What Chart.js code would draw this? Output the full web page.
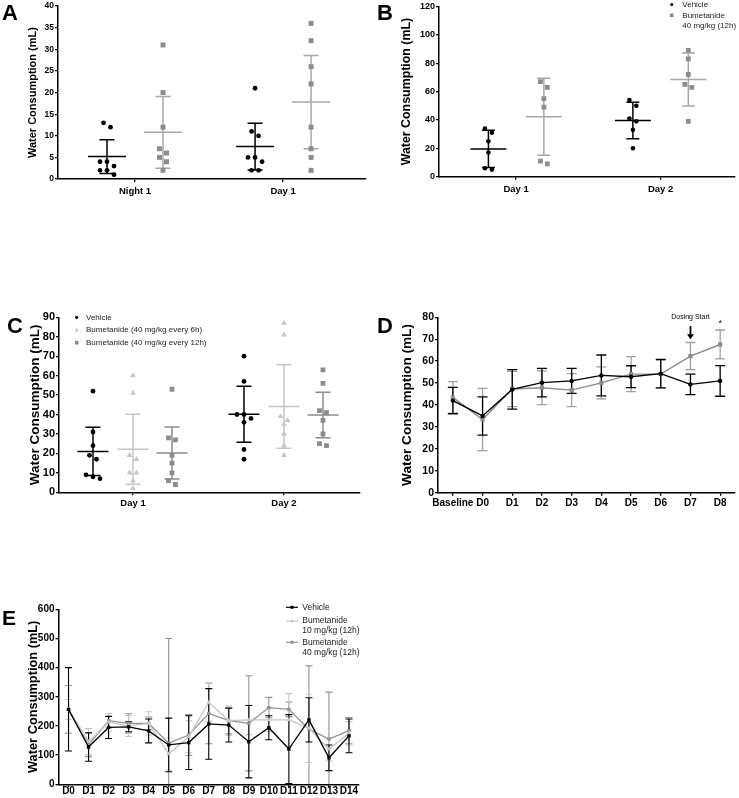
<!DOCTYPE html>
<html>
<head>
<meta charset="utf-8">
<script src="https://cdn.jsdelivr.net/npm/chart.js@4.4.1/dist/chart.umd.min.js"></script>
<style>
  body { margin: 0; background: #fff; }
  #page { position: relative; width: 739px; height: 798px; overflow: hidden; }
  canvas { position: absolute; }
</style>
</head>
<body>
<div id="page">
  <canvas id="chartA" width="370" height="200" style="left:0;top:0"></canvas>
  <canvas id="chartB" width="369" height="200" style="left:370px;top:0"></canvas>
  <canvas id="chartC" width="370" height="210" style="left:0;top:300px"></canvas>
  <canvas id="chartD" width="369" height="210" style="left:370px;top:300px"></canvas>
  <canvas id="chartE" width="370" height="208" style="left:0;top:590px"></canvas>
</div>
<script>
// ---- A: single animals, mean +/- SD
var aLabels = ['Night 1', 'Day 1'];
var aVehicle = [[12, 13, 4, 4, 3, 2, 2, 1], [21, 10, 11, 5, 5, 4, 2, 2]];
var aBumetanide = [[31, 20, 12, 7, 6, 5, 4, 2], [36, 32, 26, 22, 12, 7, 5, 2]];
var aVehicleMean = [5.2, 7.5];
var aVehicleSD = [3.9, 5.4];
var aBumetanideMean = [10.8, 17.8];
var aBumetanideSD = [8.3, 10.8];

// ---- B
var bLabels = ['Day 1', 'Day 2'];
var bVehicle = [[34, 31, 25, 17, 6, 5], [54, 50, 41, 39, 33, 20]];
var bBumetanide = [[67, 63, 55, 49, 11, 9], [89, 83, 72, 65, 63, 39]];
var bVehicleMean = [19.6, 39.6];
var bVehicleSD = [13.2, 12.9];
var bBumetanideMean = [42.2, 68.5];
var bBumetanideSD = [27.1, 18.7];

// ---- C
var cLabels = ['Day 1', 'Day 2'];
var cVehicle = [[52, 31, 24, 19, 17, 9, 8, 7], [70, 57, 40, 40, 38, 36, 22, 17]];
var cBumet6h = [[60, 51, 19, 17, 10, 10, 6, 2], [87, 81, 39, 37, 35, 30, 24, 19]];
var cBumet12h = [[53, 28, 27, 19, 15, 10, 6, 4], [63, 56, 42, 41, 37, 30, 25, 24]];
var cVehicleMean = [21.0, 40.1];
var cVehicleSD = [12.4, 14.4];
var cBumet6hMean = [22.1, 44.1];
var cBumet6hSD = [18.0, 21.5];
var cBumet12hMean = [20.2, 39.8];
var cBumet12hSD = [13.4, 11.7];

// ---- D: daily means with error bars
var dLabels = ['Baseline', 'D0', 'D1', 'D2', 'D3', 'D4', 'D5', 'D6', 'D7', 'D8'];
var dVehicle = [42.0, 35.0, 47.1, 50.2, 51.0, 53.5, 52.9, 54.3, 49.4, 51.0];
var dVehicleErr = [6.0, 8.7, 9.0, 6.5, 5.7, 9.3, 5.0, 6.5, 4.7, 7.0];
var dBumetanide = [43.5, 33.4, 47.3, 47.9, 46.8, 50.1, 54.1, 54.1, 62.3, 67.6];
var dBumetanideErr = [7.2, 14.2, 8.0, 7.7, 7.5, 7.3, 8.0, 6.3, 6.2, 6.6];

// ---- E
var eLabels = ['D0', 'D1', 'D2', 'D3', 'D4', 'D5', 'D6', 'D7', 'D8', 'D9', 'D10', 'D11', 'D12', 'D13', 'D14'];
var eVehicle = [257, 128, 195, 197, 183, 135, 143, 207, 203, 146, 194, 121, 221, 91, 166];
var eVehicleErr = [143, 49, 38, 17, 41, 92, 92, 121, 58, 124, 41, 118, 76, 44, 58];
var eBumet10 = [257, 146, 213, 200, 209, 104, 163, 281, 218, 221, 221, 221, 192, 120, 175];
var eBumet10Err = [34, 45, 30, 36, 40, 55, 55, 65, 50, 50, 40, 90, 117, 40, 40];
var eBumet40 = [257, 135, 218, 209, 209, 141, 169, 243, 218, 209, 263, 257, 189, 155, 184];
var eBumet40Err = [82, 40, 25, 33, 22, 359, 70, 104, 45, 163, 35, 25, 217, 161, 45];

var BLACK = '#000', GRAY = '#8c8c8c', LIGHT = '#c6c6c6';
Chart.defaults.font.family = '"Liberation Sans", Arial, sans-serif';
Chart.defaults.color = '#000';

var decoById = {};

function marker(ctx, kind, x, y, r, color) {
  ctx.fillStyle = color;
  ctx.beginPath();
  if (kind === 'circle') ctx.arc(x, y, r, 0, Math.PI * 2);
  else if (kind === 'rect') ctx.rect(x - r, y - r, 2 * r, 2 * r);
  else { ctx.moveTo(x, y - r * 1.2); ctx.lineTo(x + r * 1.1, y + r * 0.8); ctx.lineTo(x - r * 1.1, y + r * 0.8); ctx.closePath(); }
  ctx.fill();
}

var deco = {
  id: 'deco',
  beforeDatasetsDraw: function (chart) {
    var o = decoById[chart.canvas.id];
    var ctx = chart.ctx, ys = chart.scales.y, xs = chart.scales.x, ca = chart.chartArea;
    ctx.save();
    ctx.beginPath();
    ctx.rect(ca.left, ca.top - 2, ca.right - ca.left, ca.bottom - ca.top + 2);
    ctx.clip();
    (o.summary || []).forEach(function (g) {
      var cx = xs.getPixelForValue(g.x);
      var m = ys.getPixelForValue(g.mean), hi = ys.getPixelForValue(g.mean + g.sd), lo = ys.getPixelForValue(g.mean - g.sd);
      ctx.strokeStyle = g.color;
      ctx.lineWidth = 1.5;
      ctx.beginPath();
      ctx.moveTo(cx - g.half, m); ctx.lineTo(cx + g.half, m);
      ctx.moveTo(cx, hi); ctx.lineTo(cx, lo);
      ctx.moveTo(cx - g.cap, hi); ctx.lineTo(cx + g.cap, hi);
      ctx.moveTo(cx - g.cap, lo); ctx.lineTo(cx + g.cap, lo);
      ctx.stroke();
    });
    var sets = chart.data.datasets;
    for (var i = sets.length - 1; i >= 0; i--) {
      var ds = sets[i];
      if (!ds.errors) continue;
      var meta = chart.getDatasetMeta(i);
      ctx.strokeStyle = ds.errColor;
      ctx.lineWidth = o.errWidth;
      ctx.beginPath();
      meta.data.forEach(function (pt, j) {
        var hi = ys.getPixelForValue(ds.data[j] + ds.errors[j]), lo = ys.getPixelForValue(ds.data[j] - ds.errors[j]);
        ctx.moveTo(pt.x, hi); ctx.lineTo(pt.x, lo);
        ctx.moveTo(pt.x - o.cap, hi); ctx.lineTo(pt.x + o.cap, hi);
        ctx.moveTo(pt.x - o.cap, lo); ctx.lineTo(pt.x + o.cap, lo);
      });
      ctx.stroke();
    }
    ctx.restore();
  },
  afterDraw: function (chart) {
    var o = decoById[chart.canvas.id];
    var ctx = chart.ctx, xs = chart.scales.x, ys = chart.scales.y;
    ctx.save();
    // panel letter
    ctx.fillStyle = '#000';
    ctx.font = 'bold ' + o.letterSize + 'px "Liberation Sans", Arial, sans-serif';
    ctx.textBaseline = 'alphabetic';
    ctx.textAlign = 'left';
    ctx.fillText(o.letter, o.letterX, o.letterY);
    // legend
    ctx.font = o.legendSize + 'px "Liberation Sans", Arial, sans-serif';
    ctx.textBaseline = 'middle';
    (o.legend || []).forEach(function (it) {
      if (it.line) {
        ctx.strokeStyle = it.color; ctx.lineWidth = 1.2;
        ctx.beginPath(); ctx.moveTo(it.mx - 6, it.y); ctx.lineTo(it.mx + 6, it.y); ctx.stroke();
      }
      marker(ctx, it.kind, it.mx, it.y, it.r, it.color);
      ctx.fillStyle = '#222';
      it.lines.forEach(function (t, k) { ctx.fillText(t, it.tx, it.y + k * o.legendGap); });
    });
    // annotations
    (o.notes || []).forEach(function (n) {
      var x = xs.getPixelForValue(n.at);
      ctx.fillStyle = '#000';
      ctx.textAlign = 'center';
      if (n.text) {
        ctx.font = n.size + 'px "Liberation Sans", Arial, sans-serif';
        ctx.fillText(n.text, x, ys.getPixelForValue(n.y));
      } else {
        var y0 = ys.getPixelForValue(n.from), y1 = ys.getPixelForValue(n.to);
        ctx.strokeStyle = '#000'; ctx.lineWidth = 1.8;
        ctx.beginPath(); ctx.moveTo(x, y0); ctx.lineTo(x, y1 - 4); ctx.stroke();
        ctx.beginPath(); ctx.moveTo(x - 3.5, y1 - 5); ctx.lineTo(x + 3.5, y1 - 5); ctx.lineTo(x, y1); ctx.closePath(); ctx.fill();
      }
    });
    ctx.restore();
  }
};
Chart.register(deco);

function makeChart(id, o, type, data, xScale) {
  var canvas = document.getElementById(id);
  var padLeft = o.titleX - o.titleSize * 1.2 / 2;
  decoById[id] = o;
  xScale.ticks = Object.assign({color: '#000', font: {size: o.xTick, weight: 'bold'}, padding: o.xPad, autoSkip: false, maxRotation: 0}, xScale.ticks || {});
  xScale.grid = {drawOnChartArea: false, tickLength: 3, color: '#000', lineWidth: 1.3};
  xScale.border = {color: '#000', width: 1.5};
  xScale.afterFit = function (s) { s.height = canvas.height - o.area.bottom; };
  return new Chart(canvas, {
    type: type,
    data: data,
    options: {
      responsive: false, animation: false, events: [], devicePixelRatio: 1,
      layout: {padding: {left: padLeft, top: o.area.top, right: canvas.width - o.area.right, bottom: 0}},
      plugins: {legend: {display: false}, tooltip: {enabled: false}},
      scales: {
        x: xScale,
        y: {
          min: 0, max: o.yMax,
          ticks: {stepSize: o.yStep, color: '#000', font: {size: o.yTick, weight: 'bold'}, padding: 1},
          grid: {drawOnChartArea: false, tickLength: 3, color: '#000', lineWidth: 1.3},
          border: {color: '#000', width: 1.5},
          title: {display: true, text: 'Water Consumption (mL)', color: '#000', padding: 0, font: {size: o.titleSize, weight: 'bold'}},
          afterFit: function (s) { s.width = o.area.left - padLeft; }
        }
      }
    }
  });
}

// spread points of similar value side by side (column scatter)
function swarm(vals, cx, step, thr) {
  var s = vals.slice().sort(function (p, q) { return q - p; });
  var pts = [], i = 0;
  while (i < s.length) {
    var j = i;
    while (j + 1 < s.length && s[i] - s[j + 1] <= thr) j++;
    var n = j - i + 1;
    for (var k = 0; k < n; k++) pts.push({x: cx + (k - (n - 1) / 2) * step, y: s[i + k]});
    i = j + 1;
  }
  return pts;
}

function dotPanel(id, o) {
  var canvas = document.getElementById(id);
  var ppu = (o.area.right - o.area.left) / (o.xMax - o.xMin);
  var datasets = [];
  o.summary = [];
  o.groups.forEach(function (g) {
    var pts = [];
    o.labels.forEach(function (lab, c) {
      var cx = 1 + 2 * c + g.shift / ppu;
      pts = pts.concat(swarm(g.values[c], cx, 7 / ppu, o.thr));
      o.summary.push({x: cx, mean: g.means[c], sd: g.sds[c], color: g.lineColor, half: o.meanHalf, cap: o.capHalf});
    });
    datasets.push({label: g.label, data: pts, pointStyle: g.style, pointRadius: g.radius, pointBorderWidth: 0,
      backgroundColor: g.color, borderColor: g.color, showLine: false});
  });
  return makeChart(id, o, 'scatter', {datasets: datasets}, {
    type: 'linear', min: o.xMin, max: o.xMax,
    afterBuildTicks: function (s) { s.ticks = o.labels.map(function (l, i) { return {value: 1 + 2 * i}; }); },
    ticks: {callback: function (v, i) { return o.labels[i]; }}
  });
}

function linePanel(id, o) {
  var datasets = o.series.map(function (s) {
    return {label: s.label, data: s.data, errors: s.errors, errColor: s.errColor,
      borderColor: s.color, backgroundColor: s.color, borderWidth: s.width, tension: 0,
      pointStyle: s.style, pointRadius: s.radius, pointBorderWidth: 0};
  });
  return makeChart(id, o, 'line', {labels: o.labels, datasets: datasets}, {type: 'category', offset: true});
}

dotPanel('chartA', {
  letter: 'A', letterX: 2, letterY: 20, letterSize: 22,
  area: {left: 58, top: 5, right: 366, bottom: 179},
  titleX: 33, titleSize: 11, yTick: 8.5, xTick: 9.5, xPad: 4,
  yMax: 40, yStep: 5, xMin: -0.04, xMax: 4.12,
  labels: aLabels, thr: 1.2, meanHalf: 19, capHalf: 7.5,
  groups: [
    {label: 'Vehicle', values: aVehicle, means: aVehicleMean, sds: aVehicleSD, shift: -28, style: 'circle', radius: 2.4, color: BLACK, lineColor: BLACK},
    {label: 'Bumetanide', values: aBumetanide, means: aBumetanideMean, sds: aBumetanideSD, shift: 28, style: 'rect', radius: 3.5, color: GRAY, lineColor: '#a8a8a8'}
  ]
});

dotPanel('chartB', {
  letter: 'B', letterX: 7, letterY: 20, letterSize: 22,
  area: {left: 69, top: 4.7, right: 368, bottom: 176.7},
  titleX: 37, titleSize: 12.4, yTick: 9, xTick: 9.5, xPad: 4,
  yMax: 120, yStep: 20, xMin: -0.068, xMax: 4.03,
  labels: bLabels, thr: 4.5, meanHalf: 18, capHalf: 6.5,
  groups: [
    {label: 'Vehicle', values: bVehicle, means: bVehicleMean, sds: bVehicleSD, shift: -28, style: 'circle', radius: 2.3, color: BLACK, lineColor: BLACK},
    {label: 'Bumetanide 40 mg/kg (12h)', values: bBumetanide, means: bBumetanideMean, sds: bBumetanideSD, shift: 28, style: 'rect', radius: 3.4, color: GRAY, lineColor: '#a8a8a8'}
  ],
  legendSize: 8, legendGap: 10.5,
  legend: [
    {kind: 'circle', r: 1.6, color: BLACK, mx: 301.7, y: 4.5, tx: 312.3, lines: ['Vehicle']},
    {kind: 'rect', r: 1.8, color: GRAY, mx: 301.7, y: 15.3, tx: 312.3, lines: ['Bumetanide', '40 mg/kg (12h)']}
  ]
});

dotPanel('chartC', {
  letter: 'C', letterX: 7, letterY: 33, letterSize: 22,
  area: {left: 59, top: 17.3, right: 360, bottom: 192.3},
  titleX: 35, titleSize: 13.5, yTick: 11, xTick: 9.5, xPad: 2,
  yMax: 90, yStep: 10, xMin: 0.02, xMax: 4.007,
  labels: cLabels, thr: 3, meanHalf: 15.5, capHalf: 7.5,
  groups: [
    {label: 'Vehicle', values: cVehicle, means: cVehicleMean, sds: cVehicleSD, shift: -40, style: 'circle', radius: 2.4, color: BLACK, lineColor: BLACK},
    {label: 'Bumetanide (40 mg/kg every 6h)', values: cBumet6h, means: cBumet6hMean, sds: cBumet6hSD, shift: 0, style: 'triangle', radius: 3.3, color: LIGHT, lineColor: LIGHT},
    {label: 'Bumetanide (40 mg/kg every 12h)', values: cBumet12h, means: cBumet12hMean, sds: cBumet12hSD, shift: 39, style: 'rect', radius: 3.4, color: GRAY, lineColor: GRAY}
  ],
  legendSize: 8, legendGap: 10,
  legend: [
    {kind: 'circle', r: 1.6, color: BLACK, mx: 76.7, y: 17.3, tx: 86, lines: ['Vehicle']},
    {kind: 'tri', r: 1.8, color: LIGHT, mx: 76.7, y: 30, tx: 86, lines: ['Bumetanide (40 mg/kg every 6h)']},
    {kind: 'rect', r: 1.8, color: GRAY, mx: 76.7, y: 42.7, tx: 86, lines: ['Bumetanide (40 mg/kg every 12h)']}
  ]
});

linePanel('chartD', {
  letter: 'D', letterX: 7, letterY: 33, letterSize: 22,
  area: {left: 68, top: 17.3, right: 367, bottom: 192.7},
  titleX: 37, titleSize: 13.6, yTick: 10.5, xTick: 10, xPad: 2,
  yMax: 80, yStep: 10, cap: 5, errWidth: 1.3,
  labels: dLabels,
  series: [
    {label: 'Vehicle', data: dVehicle, errors: dVehicleErr, color: BLACK, errColor: BLACK, width: 1.4, style: 'circle', radius: 2.2},
    {label: 'Bumetanide', data: dBumetanide, errors: dBumetanideErr, color: GRAY, errColor: '#a0a0a0', width: 1.4, style: 'rect', radius: 3}
  ],
  notes: [
    {at: 8, y: 80.2, text: 'Dosing Start', size: 7},
    {at: 8, from: 76, to: 70},
    {at: 9, y: 77.2, text: '*', size: 9}
  ]
});

linePanel('chartE', {
  letter: 'E', letterX: 2, letterY: 35, letterSize: 21,
  area: {left: 58.5, top: 19.3, right: 359, bottom: 194.3},
  titleX: 33, titleSize: 12.8, yTick: 10, xTick: 10, xPad: -2,
  yMax: 600, yStep: 100, cap: 3.5, errWidth: 1.1,
  labels: eLabels,
  series: [
    {label: 'Vehicle', data: eVehicle, errors: eVehicleErr, color: BLACK, errColor: BLACK, width: 1.3, style: 'rect', radius: 2.4},
    {label: 'Bumetanide 10 mg/kg (12h)', data: eBumet10, errors: eBumet10Err, color: LIGHT, errColor: LIGHT, width: 1.3, style: 'triangle', radius: 2.6},
    {label: 'Bumetanide 40 mg/kg (12h)', data: eBumet40, errors: eBumet40Err, color: '#929292', errColor: '#929292', width: 1.3, style: 'rect', radius: 2.4}
  ],
  legendSize: 8.5, legendGap: 10,
  legend: [
    {kind: 'rect', line: true, r: 1.5, color: BLACK, mx: 292, y: 17.3, tx: 302.3, lines: ['Vehicle']},
    {kind: 'tri', line: true, r: 1.6, color: LIGHT, mx: 292, y: 31, tx: 302.3, lines: ['Bumetanide', '10 mg/kg (12h)']},
    {kind: 'rect', line: true, r: 1.5, color: '#929292', mx: 292, y: 52.3, tx: 302.3, lines: ['Bumetanide', '40 mg/kg (12h)']}
  ]
});
</script>
</body>
</html>
